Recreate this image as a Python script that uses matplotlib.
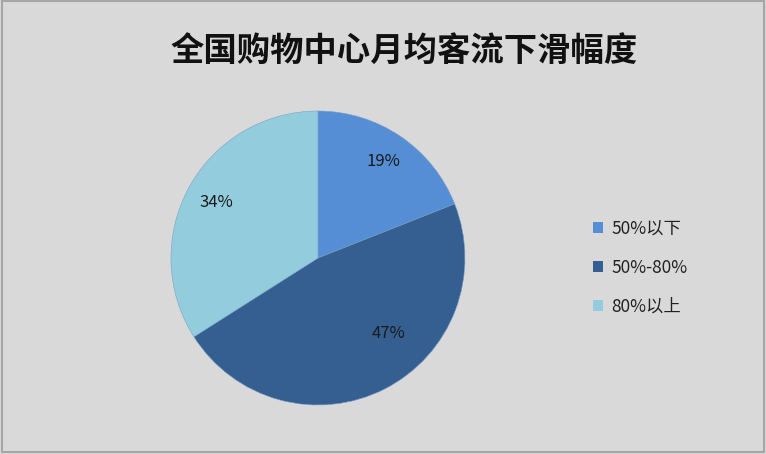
import numpy as np
import matplotlib
matplotlib.use("Agg")
import matplotlib.pyplot as plt
from matplotlib.patches import Rectangle

plt.rcParams['font.family'] = ['Noto Sans CJK SC', 'DejaVu Sans']

title = "全国购物中心月均客流下滑幅度"
categories = ["50%以下", "50%-80%", "80%以上"]
values = [19, 47, 34]
colors = ["#558ED5", "#355F91", "#93CDDD"]

fig = plt.figure(figsize=(7.66, 4.54), dpi=100)
fig.patch.set_facecolor("#D9D9D9")
fig.patches.append(Rectangle((0.002, 0.004), 0.995, 0.993, transform=fig.transFigure,
                             fill=False, edgecolor="#A6A6A6", linewidth=1.5))

ax = fig.add_axes([0.2232, 0.1079, 0.3838, 0.6476])
ax.set_facecolor("none")
wedges, texts, autotexts = ax.pie(values, colors=colors, startangle=90, counterclock=False,
                                  autopct="%d%%", pctdistance=0.79, radius=1.0,
                                  textprops=dict(fontsize=12, color="#1a1a1a", fontweight="light"),
                                  wedgeprops=dict(linewidth=0.4, edgecolor="#7aa0c8"))
# Excel best-fit moves the large slice label toward the right
w = wedges[1]
ang = np.deg2rad(w.theta2 - 0.405 * (w.theta2 - w.theta1))
autotexts[1].set_position((0.70 * np.cos(ang), 0.70 * np.sin(ang)))
ax.set_xlim(-1, 1)
ax.set_ylim(-1, 1)
ax.set_aspect("equal")

fig.text(0.528, 0.885, title, ha="center", va="center", fontsize=24, fontweight="bold",
         color="#111111")

handles = [Rectangle((0, 0), 1, 1, facecolor=c) for c in colors]
leg = fig.legend(handles, categories, loc="center left", bbox_to_anchor=(0.765, 0.41),
                 frameon=False, fontsize=12.5, handlelength=0.6, handleheight=0.6,
                 handletextpad=0.45, labelspacing=1.2, borderaxespad=0)
for t in leg.get_texts():
    t.set_color("#222222")
    t.set_fontweight("light")

fig.savefig("out.png", dpi=100, facecolor=fig.get_facecolor())
